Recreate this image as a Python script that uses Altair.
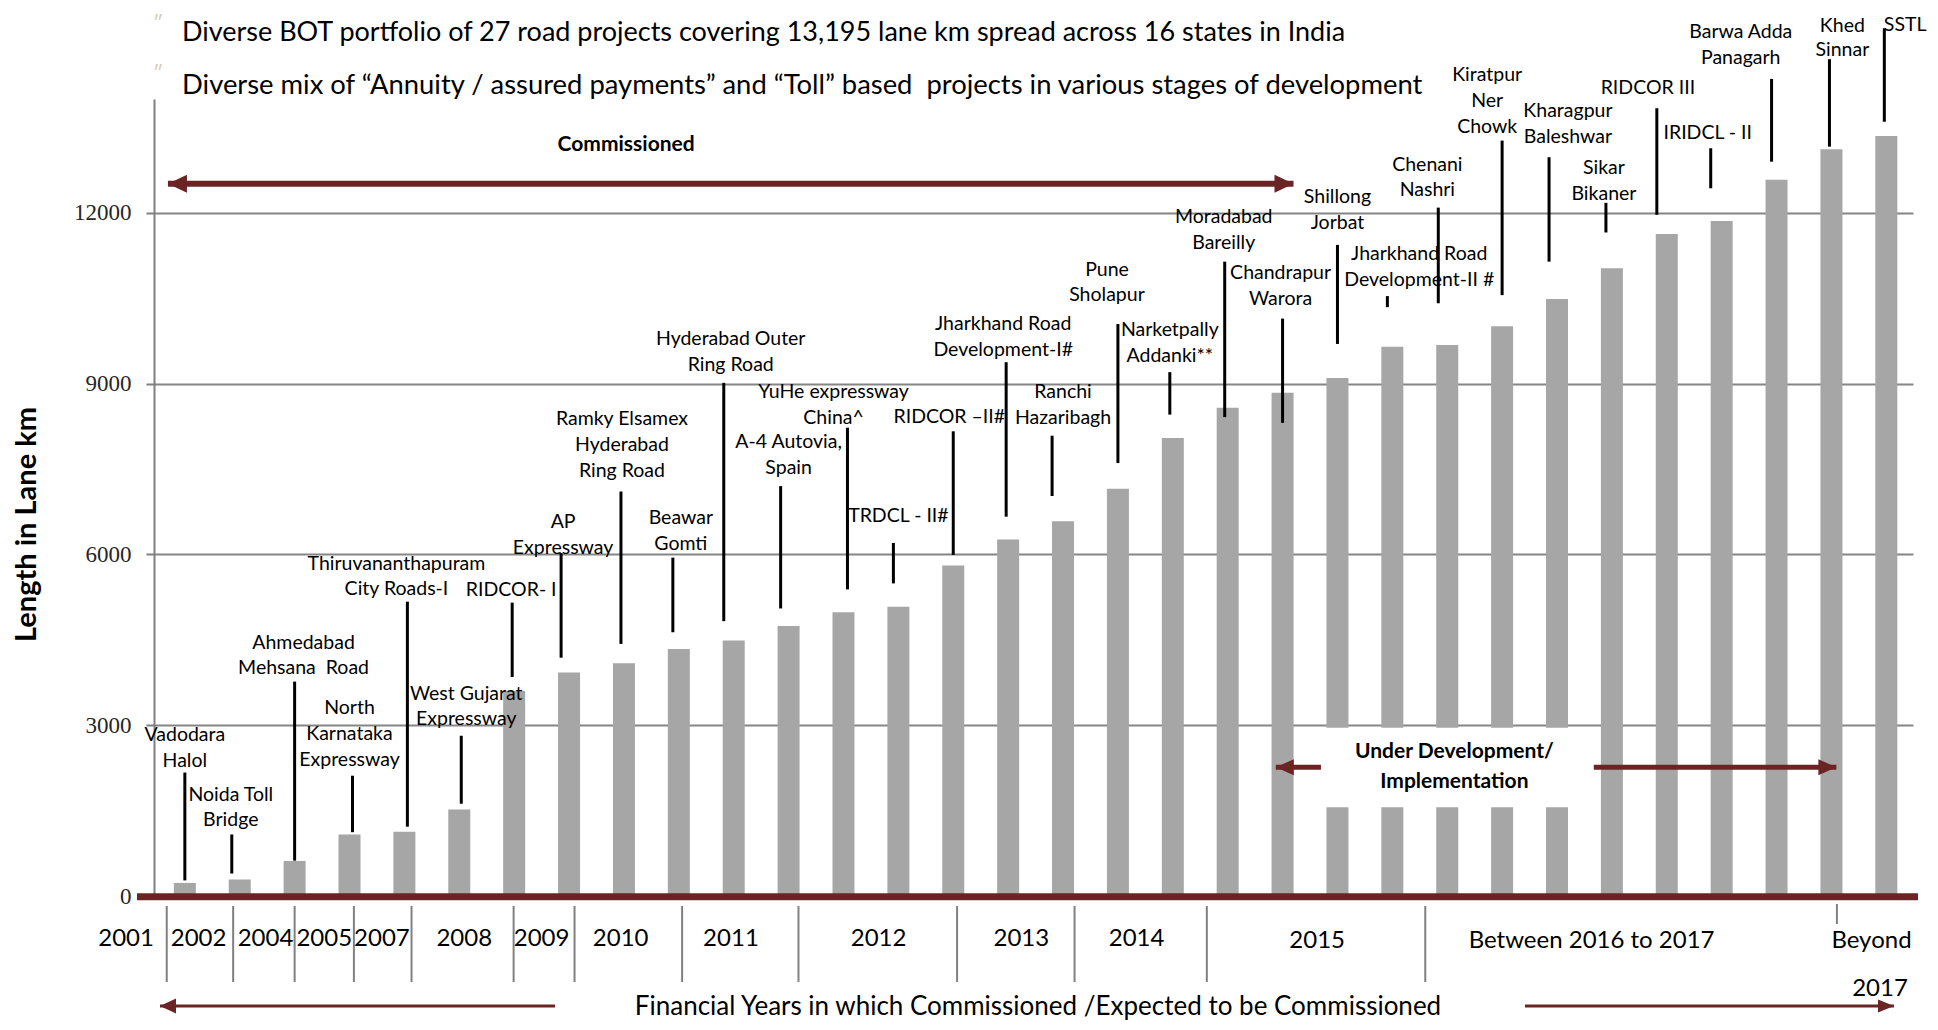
import altair as alt
import pandas as pd

# ---------------- data ----------------
projects = [
    "Vadodara Halol", "Noida Toll Bridge", "Ahmedabad Mehsana Road", "North Karnataka Expressway",
    "Thiruvananthapuram City Roads-I", "West Gujarat Expressway", "RIDCOR- I", "AP Expressway",
    "Ramky Elsamex Hyderabad Ring Road", "Beawar Gomti", "Hyderabad Outer Ring Road", "A-4 Autovia, Spain",
    "YuHe expressway China^", "TRDCL - II#", "RIDCOR \u2013II#", "Jharkhand Road Development-I#",
    "Ranchi Hazaribagh", "Pune Sholapur", "Narketpally Addanki**", "Moradabad Bareilly",
    "Chandrapur Warora", "Shillong Jorbat", "Jharkhand Road Development-II #", "Chenani Nashri",
    "Kiratpur Ner Chowk", "Kharagpur Baleshwar", "Sikar Bikaner", "RIDCOR III", "IRIDCL - II",
    "Barwa Adda Panagarh", "Khed Sinnar", "SSTL",
]
# cumulative lane km (bar heights)
lane_km = [230, 290, 616, 1080, 1128, 1520, 3600, 3928, 4088, 4340, 4486, 4743, 4986, 5083, 5806,
           6264, 6583, 7153, 8045, 8575, 8840, 9100, 9647, 9680, 10008, 10487, 11025, 11630, 11857,
           12580, 13117, 13348]
under_development_break = [False] * 21 + [True] * 5 + [False] * 6

label_lines = [
    ["Vadodara", "Halol"], ["Noida Toll", "Bridge"], ["Ahmedabad", "Mehsana\u00a0 Road"],
    ["North", "Karnataka", "Expressway"], ["Thiruvananthapuram", "City Roads-I"],
    ["West Gujarat", "Expressway"], ["RIDCOR- I"], ["AP", "Expressway"],
    ["Ramky Elsamex", "Hyderabad", "Ring Road"], ["Beawar", "Gomti"], ["Hyderabad Outer", "Ring Road"],
    ["A-4 Autovia,", "Spain"], ["YuHe expressway", "China^"], ["TRDCL - II#"], ["RIDCOR \u2013II#"],
    ["Jharkhand Road", "Development-I#"], ["Ranchi", "Hazaribagh"], ["Pune", "Sholapur"],
    ["Narketpally", "Addanki**"], ["Moradabad", "Bareilly"], ["Chandrapur", "Warora"],
    ["Shillong", "Jorbat"], ["Jharkhand Road", "Development-II #"], ["Chenani", "Nashri"],
    ["Kiratpur", "Ner", "Chowk"], ["Kharagpur", "Baleshwar"], ["Sikar", "Bikaner"], ["RIDCOR III"],
    ["IRIDCL - II"], ["Barwa Adda", "Panagarh"], ["Khed", "Sinnar"], ["SSTL"],
]
# annotation layout (lane-km units for heights, pixels for small sideways shifts)
label_top_y = [2831, 1782, 4452, 3299, 5839, 3557, 5379, 6565, 8380, 6642, 9781, 7967, 8854, 6677,
               8407, 10040, 8854, 11005, 9942, 11924, 10941, 12277, 11269, 12849, 14423, 13791, 12790,
               14189, 13398, 15174, 15280, 15300]
label_line_gap = [455] * 30 + [420, 455]
label_shift_px = [0, -9, 9, 0, -8, 7, -3, -6, -2, 2, -3, 0, -10, 0, -4, -5, 0, -11, -3, -4, -2, 0,
                  27, -20, -15, 11, -8, -19, -14, -36, 11, 19]
leader_top = [2169, 1081, 3766, 2113, 5170, 2815, 5153, 6025, 7105, 5944, 9014, 7200, 8226, 6202,
              8163, 9377, 8086, 10047, 9202, 11143, 10143, 11437, 10538, 12092, 13269, 12977, 12176,
              13838, 13135, 14353, 14699, 15243]
leader_bottom = [274, 395, 621, 1121, 1218, 1621, 3847, 4186, 4428, 4633, 4828, 5051, 5386, 5491,
                 5993, 6663, 7026, 7605, 8456, 8412, 8311, 9697, 10344, 10412, 10555, 11143, 11655,
                 11966, 12432, 12899, 13163, 13600]
leader_shift_px = [0, -8, 0, 3, 3, 2, -2, -8, -3, -6, -10, -8, 4, -5, 0, -2, -11, 0, -3, -3, 0, 0,
                   -5, -9, 0, -8, -6, -10, -11, -5, -2, -2]

year_labels = ["2001", "2002", "2004", "2005", "2007", "2008", "2009", "2010", "2011", "2012",
               "2013", "2014", "2015", "Between 2016 to 2017", "Beyond"]
year_label_slot = [-1.07, 0.25, 1.47, 2.54, 3.59, 5.09, 6.50, 7.94, 9.95, 12.64, 15.24, 17.34,
                   20.63, 25.63, 30.73]
year_separator_slot = [-0.33, 0.88, 2.00, 3.08, 4.13, 5.99, 7.10, 9.06, 11.18, 14.07, 16.21, 18.62,
                       22.60]

title_lines = [
    "Diverse BOT portfolio of 27 road projects covering 13,195 lane km spread across 16 states in India",
    "Diverse mix of \u201cAnnuity / assured payments\u201d and \u201cToll\u201d based\u00a0 projects in various stages of development",
]

# ---------------- styling ----------------
W, H = 1759, 797
SLOT_PX = 55.2
BAR = "#A6A6A6"
RED = "#6B2424"
GRID = "#858585"
FONT = "Lato"
X_DOMAIN = [-0.471, 31.395]
Y_DOMAIN = [0, 14000]
GAP_LO, GAP_HI = 1559, 2955

xs = alt.Scale(domain=X_DOMAIN, nice=False, zero=False)
ys = alt.Scale(domain=Y_DOMAIN, nice=False)


def X(field):
    return alt.X(field, type="quantitative", scale=xs, axis=None)


def Y(field):
    return alt.Y(field, type="quantitative", scale=ys)


bars_df = pd.DataFrame({"slot": list(range(len(projects))), "project": projects, "v": lane_km,
                        "brk": under_development_break})
gap_df = bars_df[bars_df["brk"]].assign(v=GAP_LO, v2=GAP_HI)

lbl_rows = []
for i, lines in enumerate(label_lines):
    for j, t in enumerate(lines):
        lbl_rows.append({"slot": i + label_shift_px[i] / SLOT_PX,
                         "v": label_top_y[i] - j * label_line_gap[i], "t": t})
lbl_df = pd.DataFrame(lbl_rows)

lead_df = pd.DataFrame({"slot": [i + s / SLOT_PX for i, s in enumerate(leader_shift_px)],
                        "v": leader_top, "v2": leader_bottom})

yaxis = alt.Axis(values=[0, 3000, 6000, 9000, 12000], format="d", grid=True, gridColor=GRID, gridWidth=2,
                 domainColor="#7F7F7F", domainWidth=2, tickColor="#7F7F7F", tickWidth=2, tickSize=8,
                 labelFont="Liberation Serif", labelFontSize=23, labelColor="#262626", labelPadding=15,
                 title="Length in Lane km", titleFont=FONT, titleFontSize=29, titleFontWeight="bold",
                 titleColor="#000000", titleAngle=270, titleX=-128, titleY=425,
                 titleAlign="center", titleBaseline="middle")

bars = alt.Chart(bars_df).mark_bar(size=22, color=BAR).encode(
    x=X("slot"),
    y=alt.Y("v", type="quantitative", scale=ys, axis=yaxis),
)
gaps = alt.Chart(gap_df).mark_bar(size=24, color="white").encode(x=X("slot"), y=Y("v"), y2="v2")
leaders = alt.Chart(lead_df).mark_rule(color="black", strokeWidth=3).encode(
    x=X("slot"), y=Y("v"), y2="v2")
labels = alt.Chart(lbl_df).mark_text(font=FONT, fontSize=19.5, color="black", align="center",
                                     baseline="middle").encode(x=X("slot"), y=Y("v"), text="t:N")

one = pd.DataFrame({"a": [0]})


def arrow(x1, x2, y, width, head_len, head_half, heads=("left", "right")):
    seg = pd.DataFrame({"slot": [x1], "slot2": [x2], "v": [y]})
    layers = [alt.Chart(seg).mark_rule(color=RED, strokeWidth=width).encode(
        x=X("slot"), x2="slot2", y=Y("v"))]
    hh = head_half / (head_len / 2)
    for side in heads:
        if side == "left":
            shape, xv = f"M0,0L2,{-hh}L2,{hh}Z", x1
        else:
            shape, xv = f"M0,0L-2,{-hh}L-2,{hh}Z", x2
        pt = pd.DataFrame({"slot": [xv], "v": [y]})
        layers.append(alt.Chart(pt).mark_point(shape=shape, size=head_len ** 2, filled=True,
                                               color=RED, opacity=1, strokeWidth=0).encode(
            x=X("slot"), y=Y("v")))
    return layers


def ptext(text, x, y, size, weight="normal", align="center", color="black", baseline="middle", **kw):
    return alt.Chart(one).mark_text(text=text, font=FONT, fontSize=size, fontWeight=weight,
                                    align=align, baseline=baseline, color=color, **kw).encode(
        x=alt.value(x), y=alt.value(y))


def dtext(text, x, y, size, weight="normal"):
    d = pd.DataFrame({"slot": [x], "v": [y], "t": [text]})
    return alt.Chart(d).mark_text(font=FONT, fontSize=size, fontWeight=weight, align="center",
                                  baseline="middle", color="black").encode(
        x=X("slot"), y=Y("v"), text="t:N")


# commissioned / under development annotations
comm_arrow = arrow(-0.308, 20.199, 12513, 6, 19, 9)
ud_left = arrow(19.877, 20.699, 2262, 5, 18, 8, heads=("left",))
ud_right = arrow(25.67, 30.09, 2262, 5, 18, 8, heads=("right",))
comm_text = dtext("Commissioned", 8.04, 13199, 21, "bold")
ud_text1 = dtext("Under Development/", 23.13, 2531, 21, "bold")
ud_text2 = dtext("Implementation", 23.13, 2009, 21, "bold")

# axis line at zero (dark red, thick)
zero_line = alt.Chart(one).mark_rule(color=RED, strokeWidth=7).encode(
    x=alt.value(-17), x2=alt.value(1764), y=alt.value(H + 0.7))

# financial-year row under the axis
yl_df = pd.DataFrame({"slot": year_label_slot, "t": year_labels})
year_text_a = alt.Chart(yl_df.iloc[:12]).mark_text(font=FONT, fontSize=24, color="black", align="center",
                                                   baseline="middle").encode(
    x=X("slot"), y=alt.value(840), text="t:N")
year_text_b = alt.Chart(yl_df.iloc[12:]).mark_text(font=FONT, fontSize=24, color="black", align="center",
                                                   baseline="middle").encode(
    x=X("slot"), y=alt.value(842), text="t:N")
sep_df = pd.DataFrame({"slot": year_separator_slot})
seps = alt.Chart(sep_df).mark_rule(color="#808080", strokeWidth=2).encode(
    x=X("slot"), y=alt.value(807), y2=alt.value(883))
sep_last = alt.Chart(pd.DataFrame({"slot": [30.10]})).mark_rule(color="#808080", strokeWidth=2).encode(
    x=X("slot"), y=alt.value(805), y2=alt.value(825))
beyond_2017 = ptext("2017", 1880 - 154, 890, 24)

# bottom caption with arrows (pixel layout below the plot)
cap = ptext("Financial Years in which Commissioned /Expected to be Commissioned", 1038 - 154, 916, 26,
            baseline="alphabetic")
ARR_Y = 907
bl_line = alt.Chart(one).mark_rule(color=RED, strokeWidth=3).encode(
    x=alt.value(160 - 154), x2=alt.value(555 - 154), y=alt.value(ARR_Y))
bl_head = alt.Chart(one).mark_point(shape="M0,0L2,-0.95L2,0.95Z", size=256, filled=True, color=RED,
                                    opacity=1, strokeWidth=0).encode(x=alt.value(160 - 154), y=alt.value(ARR_Y))
br_line = alt.Chart(one).mark_rule(color=RED, strokeWidth=3).encode(
    x=alt.value(1525 - 154), x2=alt.value(1894 - 154), y=alt.value(ARR_Y))
br_head = alt.Chart(one).mark_point(shape="M0,0L-2,-0.8L-2,0.8Z", size=256, filled=True, color=RED,
                                    opacity=1, strokeWidth=0).encode(x=alt.value(1894 - 154), y=alt.value(ARR_Y))

# headline text
t1 = ptext(title_lines[0], 182 - 154, 33 - 99, 27, align="left")
t2 = ptext(title_lines[1], 182 - 154, 86 - 99, 27.4, align="left")
b1 = ptext("\u2033", 158 - 154, 24 - 99, 20, align="center", color="#D2CBBB")
b2 = ptext("\u2033", 158 - 154, 74 - 99, 20, align="center", color="#D2CBBB")

chart = alt.layer(
    bars, gaps, leaders, labels, *comm_arrow, *ud_left, *ud_right, comm_text, ud_text1, ud_text2,
    zero_line, seps, sep_last, year_text_a, year_text_b, beyond_2017, cap, bl_line, bl_head, br_line,
    br_head, t1, t2, b1, b2,
).properties(
    width=W, height=H,
    autosize=alt.AutoSizeParams(type="none"),
    padding={"left": 146, "top": 91, "right": 15, "bottom": 126},
).configure_view(stroke=None)

chart.save("out.html", embed_options={"renderer": "svg", "actions": False})
